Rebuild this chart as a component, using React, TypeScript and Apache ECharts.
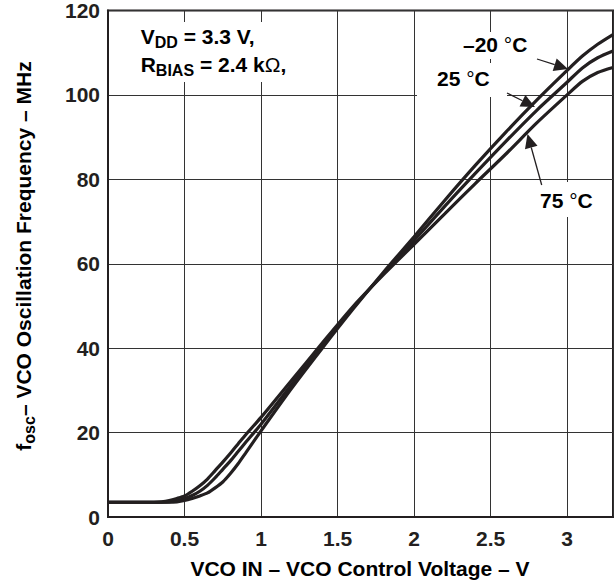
import React, { useEffect, useRef } from "react";
import * as echarts from "echarts";

const voltage = [0, 0.1, 0.2, 0.3, 0.35, 0.4, 0.45, 0.5, 0.55, 0.6, 0.65, 0.7, 0.75, 0.8, 0.85, 0.9, 1.0, 1.2, 1.4, 1.6, 1.8, 2.0, 2.2, 2.4, 2.6, 2.8, 3.0, 3.1, 3.2, 3.3];
const freqM20 = [3.5, 3.5, 3.5, 3.5, 3.5, 3.5, 3.6, 3.9, 4.4, 5.0, 5.7, 6.9, 8.3, 10.3, 12.6, 15.2, 20.4, 30.5, 40.0, 49.2, 58.0, 66.4, 75.0, 83.3, 91.2, 98.7, 105.8, 109.2, 112.0, 114.3];
const freq25 = [3.5, 3.5, 3.5, 3.5, 3.5, 3.6, 3.9, 4.4, 5.1, 6.1, 7.5, 9.3, 11.3, 13.3, 15.5, 17.7, 22.0, 31.4, 40.6, 49.5, 57.7, 65.5, 73.6, 81.4, 89.0, 96.3, 103.0, 106.4, 108.8, 110.4];
const freq75 = [3.5, 3.5, 3.5, 3.5, 3.6, 3.9, 4.4, 5.0, 6.1, 7.4, 9.0, 11.0, 13.0, 15.1, 17.3, 19.5, 23.6, 32.4, 41.2, 49.8, 57.4, 64.6, 71.8, 79.0, 86.0, 93.3, 100.0, 103.2, 105.3, 106.5];
const seriesNames = ["–20 °C", "25 °C", "75 °C"];

const INK = "#231f20";
const FONT = "'Liberation Sans', Arial, Helvetica, sans-serif";

function arrow(tail: number[], tip: number[], len = 14, wid = 13) {
  const dx = tip[0] - tail[0];
  const dy = tip[1] - tail[1];
  const d = Math.hypot(dx, dy);
  const ux = dx / d, uy = dy / d;
  const nx = -uy, ny = ux;
  const bx = tip[0] - ux * len, by = tip[1] - uy * len;
  return [
    { type: "line", z: 100, shape: { x1: tail[0], y1: tail[1], x2: bx, y2: by }, style: { stroke: INK, lineWidth: 1.3 } },
    {
      type: "polygon", z: 100,
      shape: { points: [[tip[0], tip[1]], [bx + nx * wid / 2, by + ny * wid / 2], [bx - nx * wid / 2, by - ny * wid / 2]] },
      style: { fill: INK },
    },
  ];
}

const baseRich = {
  b: { fontSize: 21, fontWeight: "bold", fontFamily: FONT, color: INK, lineHeight: 28 },
  s: { fontSize: 16, fontWeight: "bold", fontFamily: FONT, color: INK, lineHeight: 16, verticalAlign: "bottom" },
  d: { fontSize: 21, fontWeight: "normal", fontFamily: FONT, color: INK, lineHeight: 28 },
};

export default function App() {
  const ref = useRef<HTMLDivElement>(null);
  useEffect(() => {
    const chart = echarts.init(ref.current!, null, { renderer: "svg" });
    const mk = (arr: number[]) => voltage.map((v, i) => [v, arr[i]]);
    const lineSeries = [freqM20, freq25, freq75].map((arr, i) => ({
      name: seriesNames[i],
      type: "line",
      data: mk(arr),
      showSymbol: false,
      symbol: "none",
      smooth: 0.25,
      lineStyle: { color: INK, width: 3.2 },
      z: 5,
    }));
    const labelStyle = { fontSize: 21, fontWeight: "bold", fontFamily: FONT, color: INK };
    const option: any = {
      animation: false,
      grid: { left: 108, top: 10, right: 3, bottom: 67, show: true, borderColor: INK, borderWidth: 2, containLabel: false },
      xAxis: {
        type: "value", min: 0, max: 3.3, interval: 0.5,
        axisLine: { show: true, lineStyle: { color: INK, width: 2 } },
        axisTick: { show: false },
        splitLine: { show: true, lineStyle: { color: "#333", width: 1 } },
        axisLabel: { ...labelStyle, margin: 11, formatter: (v: number) => (v > 3.25 ? "" : String(v)) },
      },
      yAxis: {
        type: "value", min: 0, max: 120, interval: 20,
        axisLine: { show: true, lineStyle: { color: INK, width: 2 } },
        axisTick: { show: false },
        splitLine: { show: true, lineStyle: { color: "#333", width: 1 } },
        axisLabel: { ...labelStyle, margin: 8 },
      },
      series: lineSeries,
      graphic: [
        { type: "rect", z: 99, shape: { x: 128, y: 22, width: 172, height: 60 }, style: { fill: "#fff" } },
        { type: "rect", z: 99, shape: { x: 458, y: 32, width: 78, height: 27 }, style: { fill: "#fff" } },
        { type: "rect", z: 99, shape: { x: 417, y: 63, width: 90, height: 34 }, style: { fill: "#fff" } },
        { type: "rect", z: 99, shape: { x: 535, y: 182, width: 63, height: 35 }, style: { fill: "#fff" } },
        { type: "text", z: 100, x: 140.7, y: 22, style: { text: "{b|V}{s|DD}{b| = 3.3 V,}", rich: baseRich, align: "left", verticalAlign: "top" } },
        { type: "text", z: 100, x: 140.7, y: 50.2, style: { text: "{b|R}{s|BIAS}{b| = 2.4 k}{d|Ω}{b|,}", rich: baseRich, align: "left", verticalAlign: "top" } },
        { type: "text", z: 100, x: 463, y: 44.7, style: { text: "–20 {d|°}C", ...labelStyle, rich: { d: { ...baseRich.d, lineHeight: 21 } }, align: "left", verticalAlign: "middle" } },
        { type: "text", z: 100, x: 437, y: 78.7, style: { text: "25 {d|°}C", ...labelStyle, rich: { d: { ...baseRich.d, lineHeight: 21 } }, align: "left", verticalAlign: "middle" } },
        { type: "text", z: 100, x: 540, y: 200.7, style: { text: "75 {d|°}C", ...labelStyle, rich: { d: { ...baseRich.d, lineHeight: 21 } }, align: "left", verticalAlign: "middle" } },
        ...arrow([537, 59], [568, 69]),
        ...arrow([507, 93], [535, 107]),
        ...arrow([541.7, 185], [527.5, 134]),
        { type: "text", z: 100, x: 360, y: 568.7, style: { text: "VCO IN – VCO Control Voltage – V", ...labelStyle, align: "center", verticalAlign: "middle" } },
        { type: "text", z: 100, x: 23, y: 256, rotation: Math.PI / 2, style: { text: "{b|f}{s|osc}{b|– VCO Oscillation Frequency – MHz}", rich: baseRich, align: "center", verticalAlign: "middle" } },
      ],
    };
    chart.setOption(option);
    return () => chart.dispose();
  }, []);
  return <div ref={ref} style={{ position: "absolute", left: 0, top: 0, width: 616, height: 584 }} />;
}
